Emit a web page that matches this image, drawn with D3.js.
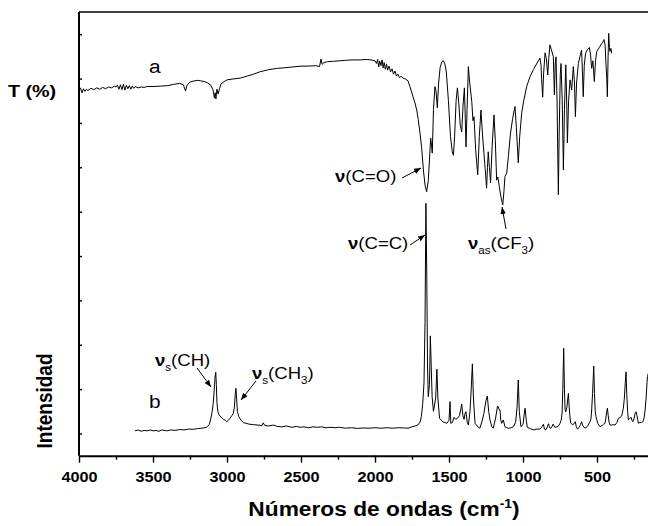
<!DOCTYPE html>
<html><head><meta charset="utf-8">
<script src="https://cdn.jsdelivr.net/npm/d3@7"></script>
<style>body{margin:0;background:#fff}svg{display:block}</style>
</head><body>
<svg id="c" width="648" height="526"></svg>
<script>
// ---- data (wavenumber cm-1, arbitrary units) ----
const irWavenumbers = [4000,3990,3980,3970,3960,3950,3940,3920,3900,3880,3860,3840,3820,3800,3780,3760,3750,3740,3730,3720,3710,3700,3690,3680,3670,3660,3650,3640,3630,3620,3600,3580,3560,3540,3500,3450,3400,3360,3320,3295,3280,3270,3250,3230,3200,3180,3150,3130,3110,3095,3085,3080,3075,3068,3060,3050,3040,3020,3000,2960,2910,2860,2820,2780,2720,2660,2620,2560,2500,2460,2400,2375,2365,2358,2345,2320,2280,2240,2200,2162,2100,2060,2027,2000,1990,1982,1975,1968,1960,1952,1945,1938,1930,1922,1915,1905,1895,1885,1875,1865,1855,1845,1835,1825,1810,1795,1777,1764,1743,1730,1718,1708,1696,1685,1673,1662,1651,1640,1633,1624,1618,1613,1605,1595,1587,1579,1570,1560,1548,1538,1528,1518,1504,1490,1478,1470,1462,1452,1443,1434,1424,1414,1405,1396,1390,1385,1378,1369,1360,1346,1338,1331,1320,1306,1295,1284,1274,1264,1255,1246,1240,1235,1227,1219,1208,1196,1187,1178,1170,1160,1150,1137,1129,1122,1110,1099,1085,1070,1054,1045,1032,1022,1009,995,975,953,930,905,885,878,874,867,861,851,842,833,826,818,808,795,788,782,777,770,765,761,756,748,743,735,727,720,711,706,700,692,682,671,660,652,646,638,626,615,604,598,593,586,577,565,552,544,536,528,518,510,502,485,468,460,453,445,439,434,430,425,421,416,412,406,401];
const irValues = [82.4,82.9,81.8,82.7,82.1,82.6,82.3,82.8,82.5,82.9,82.6,83.0,82.7,83.1,82.9,83.3,83.1,83.5,82.6,83.6,82.5,83.7,82.4,83.5,82.7,83.4,82.6,83.3,82.8,83.2,82.9,83.1,83.0,83.2,83.2,83.3,83.4,83.7,83.9,83.6,82.2,83.5,84.2,84.4,84.6,84.5,84.3,84.0,83.5,82.5,80.6,81.8,80.4,82.6,81.5,82.8,83.8,84.3,84.7,84.9,85.1,85.6,86.0,86.5,87.0,87.3,87.4,87.6,87.8,87.8,87.9,87.7,89.4,88.2,88.6,88.8,88.9,89.0,89.1,89.2,89.2,89.3,89.2,89.0,88.4,89.3,87.6,88.9,87.9,89.2,87.4,88.6,87.1,88.3,86.9,87.8,86.5,87.2,86.0,86.7,85.6,86.0,85.2,85.5,85.1,84.9,84.5,83.2,80.9,79.5,77.9,75.8,72.7,69.5,64.4,61.0,59.5,62.0,66.0,71.6,70.0,68.2,78.0,83.2,82.0,78.4,84.0,87.5,88.8,89.0,88.3,86.5,80.0,72.0,68.5,67.7,72.0,80.0,82.9,79.5,74.5,73.0,79.0,82.9,76.0,69.6,78.0,87.7,84.0,79.8,75.5,76.4,69.0,63.3,72.0,77.9,72.5,68.2,64.5,60.3,65.0,68.5,65.0,61.5,70.0,76.8,71.0,62.1,62.8,60.6,58.5,56.5,59.5,62.9,63.7,67.4,72.5,76.0,78.7,74.0,66.0,72.0,77.2,80.0,83.2,85.4,87.0,88.5,89.6,88.0,84.7,80.8,86.0,90.8,89.5,85.8,89.5,92.6,91.5,89.9,81.3,88.5,89.9,80.0,68.0,58.8,72.0,86.0,88.4,80.0,64.4,78.0,88.1,82.0,70.5,80.0,84.7,82.4,87.7,84.0,76.4,84.0,88.4,90.0,91.4,86.0,80.9,88.0,90.7,91.5,92.0,90.5,87.3,89.0,84.3,89.0,91.1,92.0,92.9,93.3,93.8,92.5,88.1,85.0,80.9,90.0,95.2,92.0,91.1,91.8,90.7];

const ramanWavenumbers = [3622,3600,3580,3560,3540,3520,3500,3480,3460,3440,3408,3380,3350,3320,3290,3260,3228,3200,3170,3138,3120,3111,3100,3093,3086,3080,3076,3072,3068,3062,3055,3047,3035,3025,3012,3002,2990,2980,2968,2957,2950,2944,2940,2936,2930,2920,2905,2889,2870,2850,2820,2790,2765,2755,2745,2720,2686,2660,2630,2600,2560,2530,2507,2480,2450,2420,2390,2360,2330,2304,2270,2240,2200,2160,2120,2080,2040,2000,1960,1920,1880,1840,1800,1777,1750,1730,1710,1695,1687,1678,1669,1662,1656,1650,1645,1640,1632,1626,1620,1614,1605,1590,1582,1575,1564,1540,1514,1500,1493,1488,1477,1466,1455,1443,1430,1420,1414,1406,1398,1392,1385,1377,1369,1358,1350,1342,1335,1324,1305,1291,1275,1264,1250,1241,1232,1223,1210,1201,1185,1172,1167,1160,1155,1150,1144,1133,1122,1099,1080,1065,1050,1040,1032,1025,1014,1000,993,986,978,971,950,930,905,885,870,862,855,846,835,828,820,811,804,797,785,770,760,750,742,736,731,725,720,716,711,703,697,693,688,682,677,665,655,647,640,632,620,612,604,595,581,565,547,540,536,530,526,522,517,512,507,495,480,465,455,446,440,434,430,424,418,412,400,390,378,365,355,345,333,322,315,309,304,299,293,288,280,270,264,258,250,243,236,230,224,220,210,200,190,182,175,168,162,159,150];
const ramanValues = [5.6,5.8,5.5,5.7,5.6,5.8,5.6,5.7,5.5,5.8,5.6,5.8,5.7,5.9,5.8,6.0,5.95,6.1,6.2,6.4,7.0,8.05,10.0,11.8,15.0,18.0,18.8,16.0,12.0,10.0,9.3,8.95,8.5,8.2,8.0,7.66,8.0,8.43,9.0,9.56,11.0,14.0,15.2,13.5,10.0,8.8,8.0,7.44,7.3,7.1,7.0,6.9,6.8,7.4,6.8,6.7,6.9,6.6,6.5,6.7,6.4,6.6,6.4,6.5,6.3,6.5,6.4,6.5,6.3,6.4,6.3,6.4,6.2,6.3,6.15,6.25,6.2,6.3,6.2,6.3,6.2,6.3,6.25,6.2,6.5,6.7,6.92,7.6,8.8,11.5,16.4,30.0,56.9,40.0,20.0,13.3,16.0,27.0,20.0,13.3,10.0,13.0,19.5,13.0,8.43,7.6,7.3,8.0,12.2,7.3,7.5,8.65,8.2,8.43,9.0,10.5,11.65,9.0,8.2,9.5,9.9,7.5,6.92,10.0,15.0,20.7,13.0,7.3,6.5,6.18,8.0,9.56,12.5,13.45,10.0,8.05,6.5,6.18,8.5,11.2,11.0,10.3,10.3,8.0,7.3,8.05,6.54,6.18,6.3,6.54,7.5,11.0,17.06,10.0,6.54,7.0,9.0,10.7,8.0,6.4,6.1,5.8,6.0,6.0,6.6,7.1,6.0,5.8,6.5,7.2,6.3,6.18,6.6,7.1,6.4,6.5,6.7,7.3,8.0,9.6,15.0,24.2,15.0,10.5,9.9,11.0,13.0,14.06,11.0,8.5,7.3,7.0,7.2,7.66,6.6,6.0,6.4,7.0,7.66,6.7,6.18,6.6,7.66,8.5,10.3,14.0,17.0,20.2,14.0,10.0,8.8,7.3,6.54,6.8,7.1,7.3,8.5,10.0,10.7,9.0,7.5,6.92,6.9,7.0,6.92,7.5,8.43,8.6,8.95,10.7,13.0,16.5,18.9,14.0,10.0,8.05,8.3,8.65,8.0,7.66,8.3,9.5,9.9,9.0,8.0,7.3,7.5,7.5,7.66,8.5,10.3,13.0,16.5,17.8,19.0];

const xMajorTicks = [4000,3500,3000,2500,2000,1500,1000,500];
const xMinorTicks = [3750,3250,2750,2250,1750,1250,750,250];
const yTicks = [5,15,25,35,45,55,65,75,85,95];
const xTitle = "Números de ondas (cm";
const yTitleTop = "T (%)";
const yTitleBottom = "Intensidad";

// ---- drawing ----
const svg = d3.select("#c");
const FONT = "'Liberation Sans', Arial, Helvetica, sans-serif";
const SX = 1.16; // horizontal stretch of glyphs seen in the reference
const plotLeft = 79, plotTop = 12, plotBottom = 455.7;
const x = d3.scaleLinear().domain([4000, 0]).range([plotLeft, plotLeft + 4000 * 0.148]);
const y = d3.scaleLinear().domain([0, 100]).range([plotBottom, plotTop]);

svg.append("rect").attr("width", 648).attr("height", 526).attr("fill", "#fff");

const line = d3.line().x(d => x(d[0])).y(d => y(d[1]));
const ir = d3.zip(irWavenumbers, irValues);
const raman = d3.zip(ramanWavenumbers, ramanValues);
svg.append("path").datum(ir).attr("d", line).attr("fill", "none").attr("stroke", "#000").attr("stroke-width", 1).attr("stroke-linejoin", "round");
svg.append("path").datum(raman).attr("d", line).attr("fill", "none").attr("stroke", "#000").attr("stroke-width", 1).attr("stroke-linejoin", "round");

// frame top
svg.append("line").attr("x1", plotLeft).attr("x2", 648).attr("y1", plotTop).attr("y2", plotTop).attr("stroke", "#000").attr("stroke-width", 1.4);

// x axis
const gxMinor = svg.append("g").attr("transform", `translate(0,${plotBottom})`)
  .call(d3.axisBottom(x).tickValues(xMinorTicks).tickSize(4).tickFormat(""));
gxMinor.select(".domain").remove();
gxMinor.selectAll("line").attr("stroke-width", 1.4);
const gx = svg.append("g").attr("transform", `translate(0,${plotBottom})`)
  .call(d3.axisBottom(x).tickValues(xMajorTicks).tickSize(7).tickSizeOuter(0).tickFormat(d3.format("d")));
gx.select(".domain").attr("stroke-width", 2);
gx.selectAll("line").attr("stroke-width", 1.4);
gx.selectAll("text").attr("y", 16).attr("dy", "0.72em").attr("font-family", FONT).attr("font-weight", "bold").attr("font-size", 14).attr("fill", "#000").attr("transform", `scale(${SX},1)`);

// y axis (no labels, inner ticks)
const gy = svg.append("g").attr("transform", `translate(${plotLeft},0)`)
  .call(d3.axisLeft(y).tickValues(yTicks).tickSize(-3).tickSizeOuter(0).tickFormat(""));
gy.select(".domain").attr("stroke-width", 2).attr("d", `M0,${plotTop}V${plotBottom}`);
gy.selectAll("line").attr("stroke-width", 1.4);

function txt(xp, yp, size, weight, anchor) {
  return svg.append("text").attr("transform", `translate(${xp},${yp}) scale(${SX},1)`)
    .attr("font-family", FONT).attr("font-size", size).attr("font-weight", weight)
    .attr("text-anchor", anchor || "start").attr("fill", "#000");
}

// titles
const xt = txt(384, 516, 19.6, "bold", "middle");
xt.append("tspan").text(xTitle);
xt.append("tspan").attr("font-size", 12).attr("dy", -8).text("-1");
xt.append("tspan").attr("dy", 8).text(")");
txt(8, 97, 17, "bold").text(yTitleTop);
svg.append("text").attr("transform", `translate(52,401) rotate(-90) scale(1,${SX})`)
  .attr("font-family", FONT).attr("font-size", 19).attr("font-weight", "bold").attr("text-anchor", "middle").text(yTitleBottom);

// labels a / b
txt(149, 73, 18, "normal").text("a");
txt(149, 408, 18, "normal").text("b");

// annotations
function nuLabel(xp, yp, sub, body, subsc) {
  const t = txt(xp, yp, 16, "normal");
  t.append("tspan").attr("font-weight", "bold").text("ν");
  if (sub) t.append("tspan").attr("font-size", 10).attr("dy", 5).text(sub);
  t.append("tspan").attr("dy", sub ? -5 : 0).text(body);
  if (subsc) { t.append("tspan").attr("font-size", 10).attr("dy", 5).text(subsc); t.append("tspan").attr("dy", -5).text(")"); }
  return t;
}
nuLabel(335, 182, null, "(C=O)");
nuLabel(348, 249, null, "(C=C)");
nuLabel(468, 249, "as", "(CF", "3");
nuLabel(155, 366, "s", "(CH)");
nuLabel(252, 379, "s", "(CH", "3");

svg.append("defs").append("marker").attr("id", "ah").attr("viewBox", "0 0 10 10").attr("refX", 10).attr("refY", 5)
  .attr("markerWidth", 7).attr("markerHeight", 7).attr("orient", "auto-start-reverse").attr("markerUnits", "userSpaceOnUse")
  .append("path").attr("d", "M0,1L10,5L0,9z").attr("fill", "#000");
function arrow(x1, y1, x2, y2) {
  svg.append("line").attr("x1", x1).attr("y1", y1).attr("x2", x2).attr("y2", y2)
    .attr("stroke", "#000").attr("stroke-width", 1).attr("marker-end", "url(#ah)");
}
arrow(402, 178, 421, 168);
arrow(410, 245, 425, 235);
arrow(506, 229, 502, 207);
arrow(197, 368, 211, 387);
arrow(256, 381, 241, 400);
</script>
</body></html>
